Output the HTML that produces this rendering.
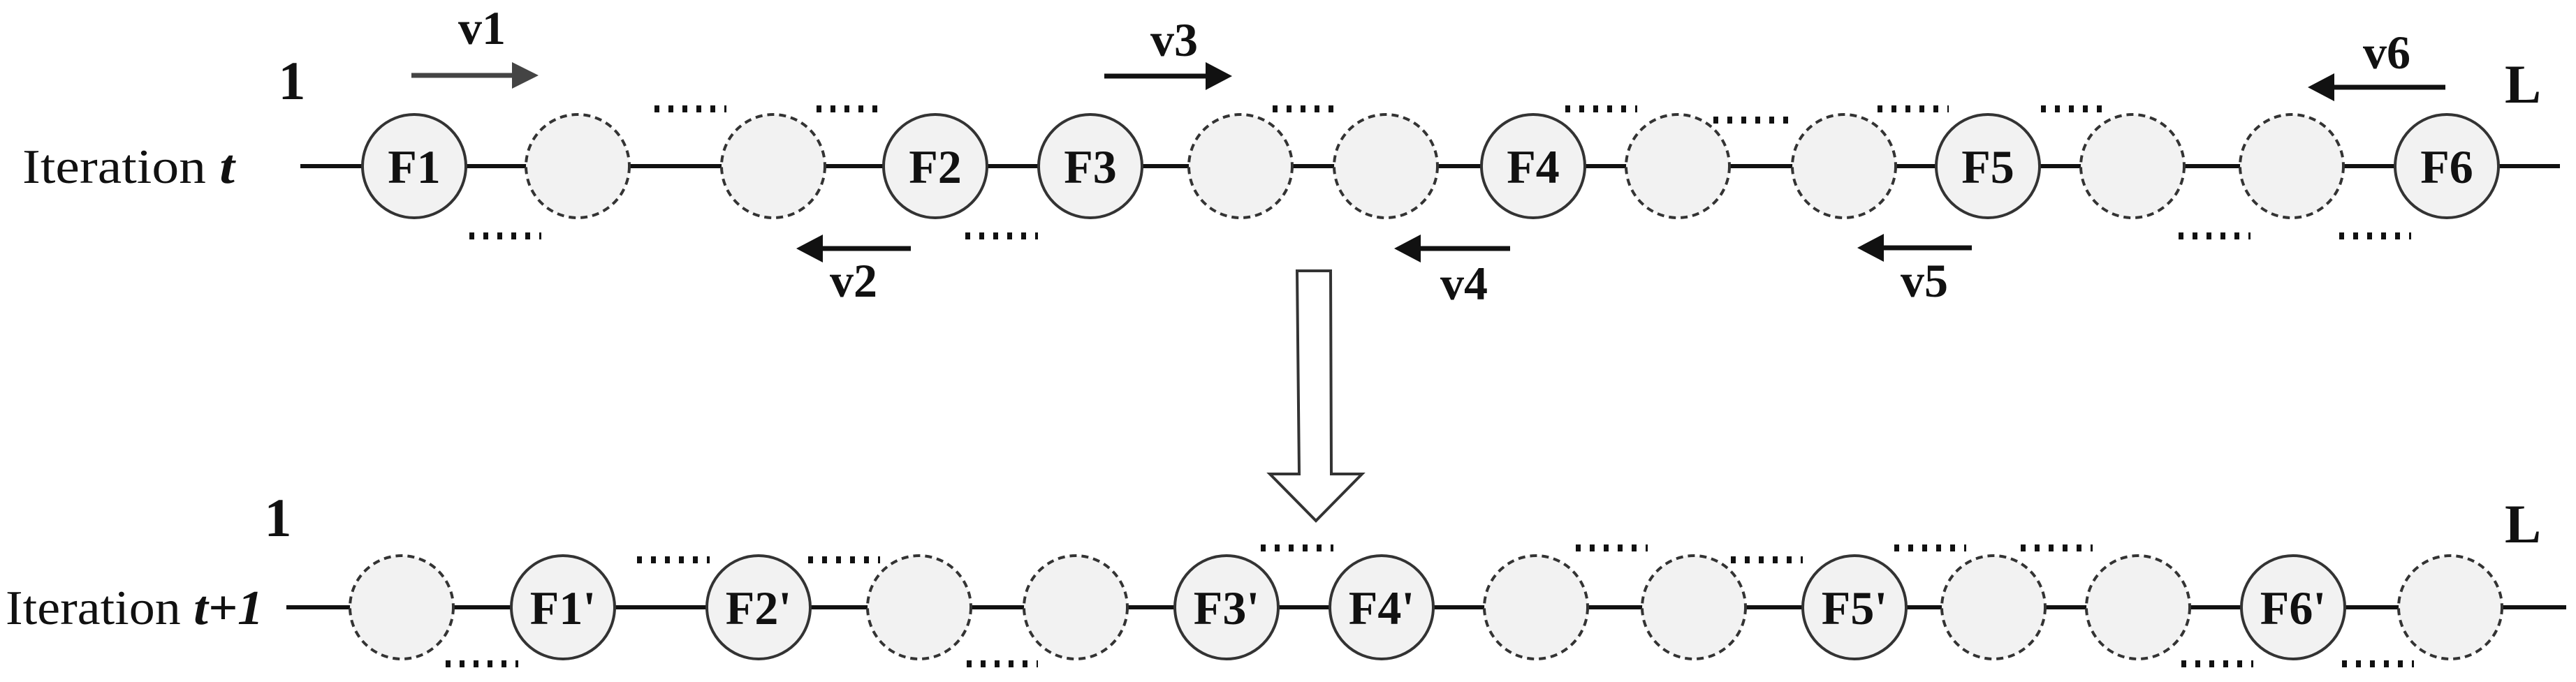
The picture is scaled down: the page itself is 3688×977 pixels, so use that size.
<!DOCTYPE html>
<html><head><meta charset="utf-8"><style>html,body{margin:0;padding:0;background:#fff}svg{display:block}</style></head>
<body>
<svg width="3688" height="977" viewBox="0 0 3688 977" xmlns="http://www.w3.org/2000/svg" font-family="'Liberation Serif', serif">
<g stroke="#111" stroke-width="6">
<line x1="430" y1="238" x2="3665" y2="238"/>
<line x1="410" y1="870" x2="3674" y2="870"/>
</g>
<g fill="#f2f2f2" stroke="#333" stroke-width="4">
<circle cx="593" cy="238" r="74"/>
<circle cx="827" cy="238" r="74" stroke-dasharray="10 7"/>
<circle cx="1107" cy="238" r="74" stroke-dasharray="10 7"/>
<circle cx="1339" cy="238" r="74"/>
<circle cx="1561" cy="238" r="74"/>
<circle cx="1776" cy="238" r="74" stroke-dasharray="10 7"/>
<circle cx="1984" cy="238" r="74" stroke-dasharray="10 7"/>
<circle cx="2195" cy="238" r="74"/>
<circle cx="2402" cy="238" r="74" stroke-dasharray="10 7"/>
<circle cx="2640" cy="238" r="74" stroke-dasharray="10 7"/>
<circle cx="2846" cy="238" r="74"/>
<circle cx="3053" cy="238" r="74" stroke-dasharray="10 7"/>
<circle cx="3281" cy="238" r="74" stroke-dasharray="10 7"/>
<circle cx="3503" cy="238" r="74"/>
<circle cx="575" cy="870" r="74" stroke-dasharray="10 7"/>
<circle cx="806" cy="870" r="74"/>
<circle cx="1086" cy="870" r="74"/>
<circle cx="1316" cy="870" r="74" stroke-dasharray="10 7"/>
<circle cx="1540" cy="870" r="74" stroke-dasharray="10 7"/>
<circle cx="1756" cy="870" r="74"/>
<circle cx="1978" cy="870" r="74"/>
<circle cx="2199" cy="870" r="74" stroke-dasharray="10 7"/>
<circle cx="2425" cy="870" r="74" stroke-dasharray="10 7"/>
<circle cx="2655" cy="870" r="74"/>
<circle cx="2854" cy="870" r="74" stroke-dasharray="10 7"/>
<circle cx="3061" cy="870" r="74" stroke-dasharray="10 7"/>
<circle cx="3283" cy="870" r="74"/>
<circle cx="3508" cy="870" r="74" stroke-dasharray="10 7"/>
</g>
<g stroke="#111" stroke-width="10" stroke-dasharray="7 13">
<line x1="937" y1="156" x2="1040" y2="156"/>
<line x1="1169" y1="156" x2="1269" y2="156"/>
<line x1="1822" y1="156" x2="1921" y2="156"/>
<line x1="2241" y1="156" x2="2344" y2="156"/>
<line x1="2453" y1="172" x2="2560" y2="172"/>
<line x1="2688" y1="156" x2="2790" y2="156"/>
<line x1="2922" y1="156" x2="3020" y2="156"/>
<line x1="672" y1="338" x2="775" y2="338"/>
<line x1="1382" y1="338" x2="1486" y2="338"/>
<line x1="3119" y1="338" x2="3222" y2="338"/>
<line x1="3349" y1="338" x2="3452" y2="338"/>
<line x1="912" y1="802" x2="1016" y2="802"/>
<line x1="1157" y1="802" x2="1260" y2="802"/>
<line x1="1805" y1="785" x2="1909" y2="785"/>
<line x1="2256" y1="785" x2="2359" y2="785"/>
<line x1="2478" y1="802" x2="2581" y2="802"/>
<line x1="2712" y1="785" x2="2815" y2="785"/>
<line x1="2893" y1="785" x2="2996" y2="785"/>
<line x1="638" y1="951" x2="742" y2="951"/>
<line x1="1384" y1="951" x2="1486" y2="951"/>
<line x1="3123" y1="951" x2="3226" y2="951"/>
<line x1="3353" y1="951" x2="3456" y2="951"/>
</g>
<g stroke-width="7">
<line x1="589" y1="108" x2="740" y2="108" stroke="#444"/>
<polygon points="771,108 733,89 733,127" fill="#444"/>
<line x1="1170" y1="356" x2="1304" y2="356" stroke="#111"/>
<polygon points="1140,356 1178,336 1178,376" fill="#111"/>
<line x1="1581" y1="109" x2="1735" y2="109" stroke="#111"/>
<polygon points="1764,109 1726,89 1726,129" fill="#111"/>
<line x1="2025" y1="356" x2="2162" y2="356" stroke="#111"/>
<polygon points="1996,356 2034,336 2034,376" fill="#111"/>
<line x1="2688" y1="355" x2="2823" y2="355" stroke="#111"/>
<polygon points="2659,355 2697,335 2697,375" fill="#111"/>
<line x1="3333" y1="125" x2="3501" y2="125" stroke="#111"/>
<polygon points="3304,125 3342,105 3342,145" fill="#111"/>
</g>
<polygon points="1857,388 1905,388 1906,679 1950,679 1884,746 1818,679 1860,679" fill="#fff" stroke="#333" stroke-width="4"/>
<g font-size="68" font-weight="bold" text-anchor="middle" fill="#111">
<text x="593" y="262">F1</text>
<text x="1339" y="262">F2</text>
<text x="1561" y="262">F3</text>
<text x="2195" y="262">F4</text>
<text x="2846" y="262">F5</text>
<text x="3503" y="262">F6</text>
<text x="806" y="894">F1'</text>
<text x="1086" y="894">F2'</text>
<text x="1756" y="894">F3'</text>
<text x="1978" y="894">F4'</text>
<text x="2655" y="894">F5'</text>
<text x="3283" y="894">F6'</text>
<text x="690" y="63">v1</text>
<text x="1222" y="425">v2</text>
<text x="1681" y="80">v3</text>
<text x="2096" y="429">v4</text>
<text x="2755" y="425">v5</text>
<text x="3417" y="98">v6</text>
<text x="418" y="142" font-size="78">1</text>
<text x="3612" y="147" font-size="78">L</text>
<text x="398" y="768" font-size="78">1</text>
<text x="3612" y="777" font-size="78">L</text>
</g>
<text x="32" y="262" font-size="70" fill="#111" textLength="304" lengthAdjust="spacingAndGlyphs">Iteration <tspan font-weight="bold" font-style="italic">t</tspan></text>
<text x="8" y="894" font-size="70" fill="#111" textLength="369" lengthAdjust="spacingAndGlyphs">Iteration <tspan font-weight="bold" font-style="italic">t+1</tspan></text>
</svg>
</body></html>
